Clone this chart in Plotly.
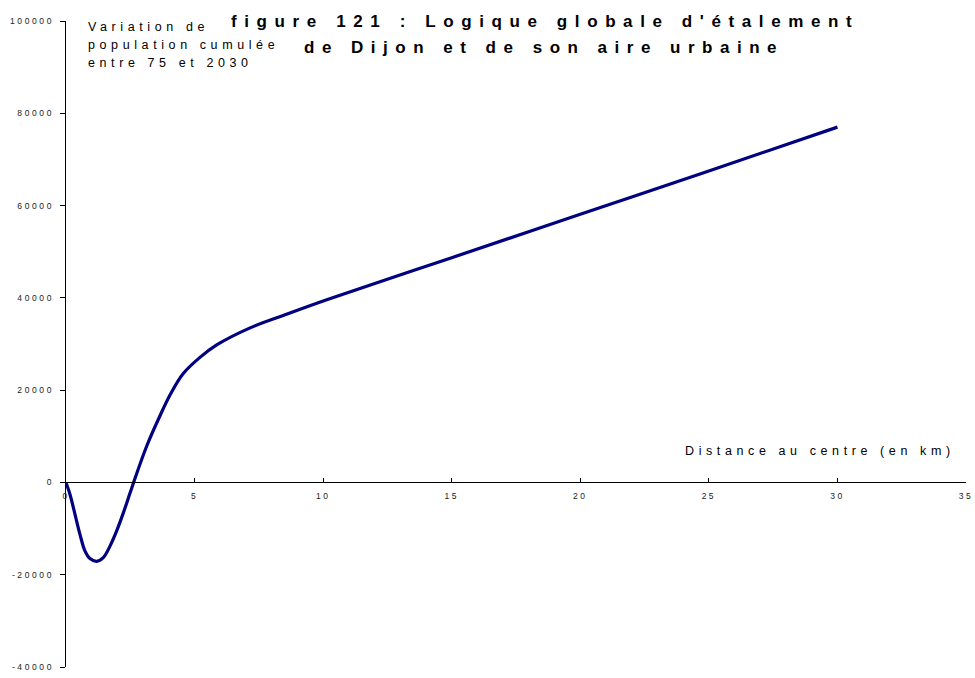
import plotly.graph_objects as go

# Data
distance_km = [0, 0.156, 0.35, 0.545, 0.74, 0.93, 1.19, 1.45, 1.71, 1.97, 2.23, 2.49, 2.63,
               3.14, 3.66, 4.05, 4.56, 5.21, 5.86, 7.16, 8.45, 10.14, 15, 20, 25, 30]
cumulated_variation = [0, -2600, -6900, -11300, -14900, -16500, -17100, -16300, -13800, -10500,
                       -6600, -2300, 0, 7900, 14500, 19000, 23600, 27100, 29800, 33500, 36200,
                       39600, 48700, 58100, 67500, 77000]

x_tick_values = [0, 5, 10, 15, 20, 25, 30, 35]
y_tick_values = [-40000, -20000, 0, 20000, 40000, 60000, 80000, 100000]

title_line1 = "figure 121 : Logique globale d'étalement"
title_line2 = "de Dijon et de son aire urbaine"
y_label_lines = ["Variation de", "population cumulée", "entre 75 et 2030"]
x_label = "Distance au centre (en km)"

FONT = "Liberation Sans, Arial, sans-serif"
W, H = 975, 678
# plot area in screen pixels: x 66..966, y 21..667
L, T = 66, 21
R = W - 966
B = H - 667
PW, PH = W - L - R, H - T - B


def px_x(sx):
    return (sx - L) / PW


def px_y(sy):
    return (H - B - sy) / PH


def spaced(text, ls):
    return f"<span style='letter-spacing:{ls}px'>{text}</span>"


fig = go.Figure()
fig.add_trace(go.Scatter(
    x=distance_km, y=cumulated_variation, mode="lines",
    line=dict(color="#000080", width=3.2, shape="spline", smoothing=1.0),
    hoverinfo="skip", showlegend=False,
))

y_min, y_max = -40000, 100000
fig.update_layout(
    width=W, height=H,
    margin=dict(l=L, r=R, t=T, b=B, autoexpand=False),
    paper_bgcolor="white", plot_bgcolor="white",
    font=dict(family=FONT, color="black"),
    xaxis=dict(
        range=[0, 35], anchor="free", position=(0 - y_min) / (y_max - y_min),
        showline=True, linecolor="black", linewidth=1,
        showgrid=False, zeroline=False,
        ticks="inside", ticklen=4, tickcolor="black", tickwidth=1,
        tickvals=x_tick_values,
        ticktext=[spaced(str(v), 2.5) for v in x_tick_values],
        tickfont=dict(size=8.5, family=FONT, color="#222"),
        ticklabelstandoff=5, ticklabeloverflow="allow",
    ),
    yaxis=dict(
        range=[y_min, y_max],
        showline=True, linecolor="black", linewidth=1.3,
        showgrid=False, zeroline=False,
        ticks="outside", ticklen=5, tickcolor="black", tickwidth=1,
        tickvals=y_tick_values,
        ticktext=[spaced(str(v), 2.6) for v in y_tick_values],
        tickfont=dict(size=8.5, family=FONT, color="#222"),
        ticklabelstandoff=4, ticklabeloverflow="allow",
    ),
)

ann = []
ann.append(dict(text=spaced("<b>" + title_line1 + "</b>", 7.6), x=px_x(545), y=px_y(21),
                xanchor="center", yanchor="middle", font=dict(size=17, family=FONT)))
ann.append(dict(text=spaced("<b>" + title_line2 + "</b>", 7.5), x=px_x(544), y=px_y(47),
                xanchor="center", yanchor="middle", font=dict(size=17, family=FONT)))
for i, line in enumerate(y_label_lines):
    ann.append(dict(text=spaced(line, 4.6), x=px_x(86), y=px_y(27 + 18 * i),
                    xanchor="left", yanchor="middle", font=dict(size=12.5, family=FONT)))
ann.append(dict(text=spaced(x_label, 4.6), x=px_x(683), y=px_y(451),
                xanchor="left", yanchor="middle", font=dict(size=12.5, family=FONT)))
for a in ann:
    a.update(xref="paper", yref="paper", showarrow=False)
fig.update_layout(annotations=ann)

fig.write_html("out.html", config={"displayModeBar": False, "staticPlot": True},
               post_script="document.body.style.margin='0px';")
